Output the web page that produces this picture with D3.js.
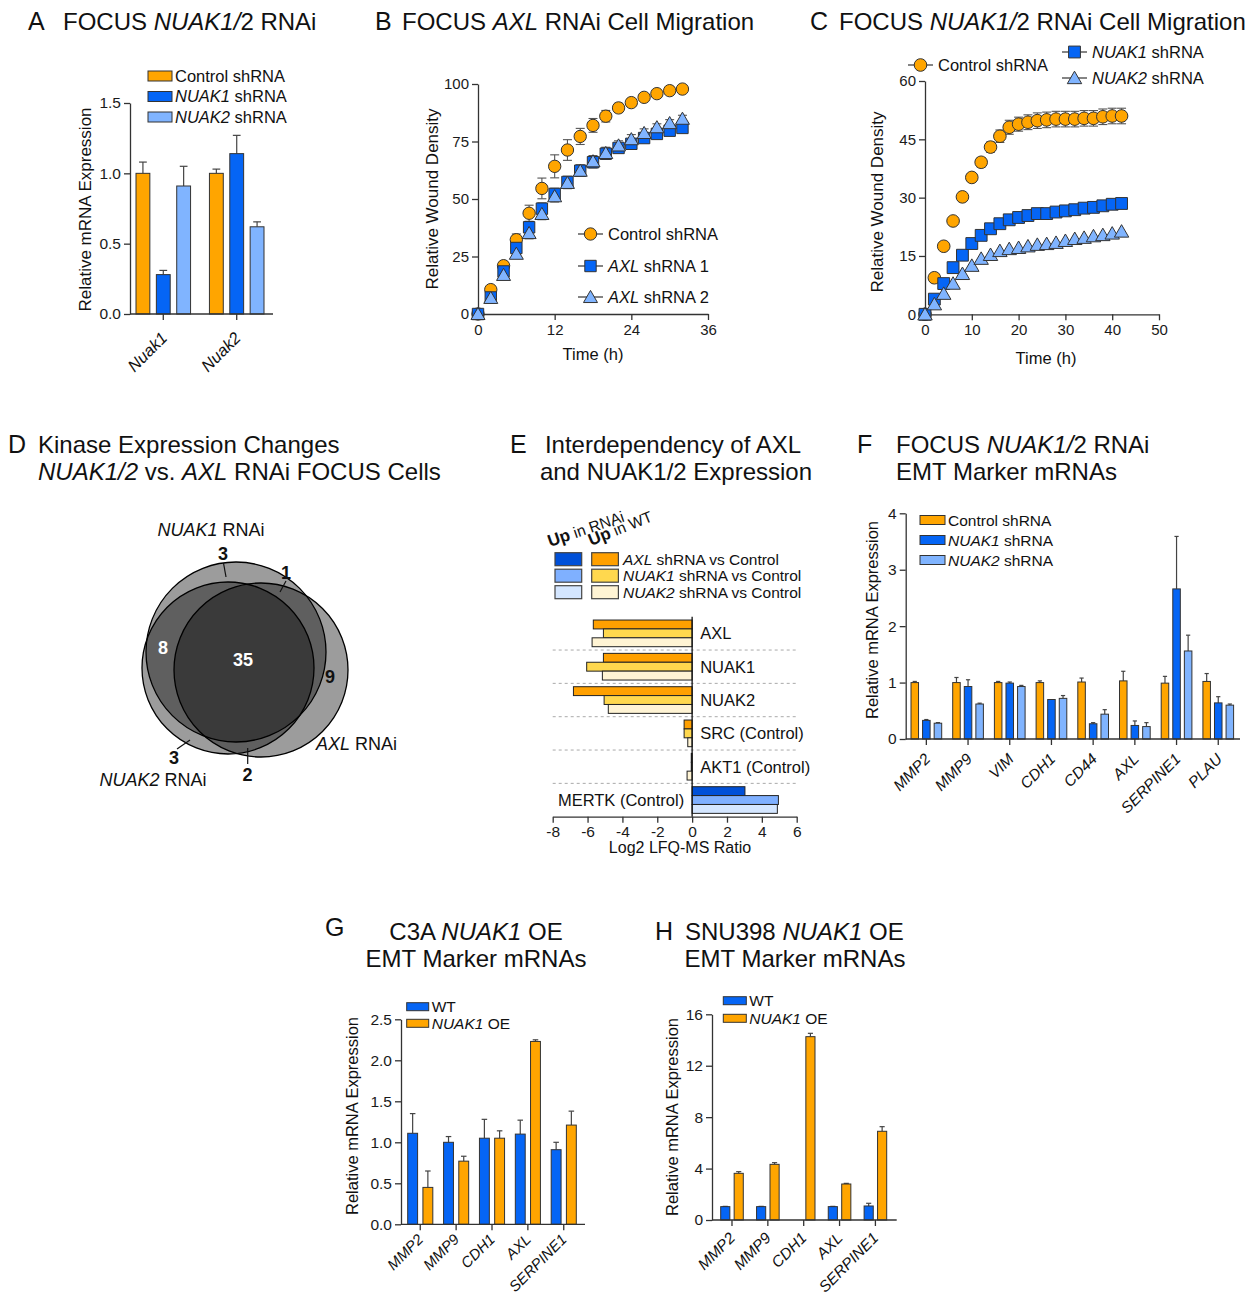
<!DOCTYPE html>
<html><head><meta charset="utf-8">
<script src="https://cdn.jsdelivr.net/npm/d3@7"></script>
<style>
body{margin:0;background:#fff;}
svg{font-family:"Liberation Sans",Arial,Helvetica,sans-serif;}
</style></head><body>
<svg id="fig" width="1255" height="1298"></svg>
<script>
// ---------------- DATA ----------------
// Panel A
const aCategories = ["Nuak1", "Nuak2"];
const aSeries = ["Control shRNA", "NUAK1 shRNA", "NUAK2 shRNA"];
const aValues = [[1.00, 0.28, 0.91], [1.00, 1.14, 0.62]];
const aErrors = [[0.08, 0.03, 0.14], [0.03, 0.13, 0.035]];
const aTicks = [0, 0.5, 1.0, 1.5];

// Panel B
const bTime = [0,2,4,6,8,10,12,14,16,18,20,22,24,26,28,30,32];
const bControl = [0,10.6,21,32.3,43.8,54.6,64.2,71.3,77.2,82,86,89.6,91.9,94.2,95.8,97.1,97.8];
const bControlErr = [0,0.8,1.5,2.5,3.5,4.5,5,4.5,3.5,3,2.5,2,1.5,1.2,1,1,1];
const bAxl1 = [0,7.2,18.5,28.7,37.7,45.8,52.2,57.4,62.3,66,69.7,72.2,74,76.5,78.3,79.7,80.9];
const bAxl1Err = [0,0.8,1.5,2,2.5,2.5,2.5,2.5,2.5,2.5,2.5,2,2,1.8,1.5,1.5,1.5];
const bAxl2 = [0,7,17,26.2,35.2,43.5,51.2,57,62.3,66.4,70,73.3,76,78.7,81.2,83,84.9];
const bAxl2Err = [0,0.8,1.5,2,2.5,2.5,2.5,2.5,2.5,2.5,2.5,2,2,1.8,1.5,1.5,1.5];
const bXTicks = [0, 12, 24, 36];
const bYTicks = [0, 25, 50, 75, 100];

// Panel C
const cTime = [0,2,4,6,8,10,12,14,16,18,20,22,24,26,28,30,32,34,36,38,40,42];
const cControl = [0,9.4,17.5,24,30.2,35.2,39.1,43,45.8,48.1,48.9,49.4,49.8,50,50.2,50.2,50.2,50.4,50.4,50.8,51,51];
const cControlErr = [0,0.5,0.5,0.5,0.6,1,1.2,1.3,1.6,1.8,1.8,1.9,2,2,2,2,2,2,2,2,2,2];
const cNuak1 = [0,3.9,7.9,12,15.2,18.2,20.3,22,23.3,24.3,24.9,25.4,25.9,25.9,26.3,26.6,26.9,27.3,27.5,27.9,28.3,28.5];
const cNuak2 = [0,2.6,5.3,7.9,10.4,12.5,14.3,15.3,16.3,16.8,17.1,17.5,17.9,18.1,18.4,18.9,19.4,19.7,20.1,20.4,20.8,21.3];
const cXTicks = [0, 10, 20, 30, 40, 50];
const cYTicks = [0, 15, 30, 45, 60];

// Panel D (Venn counts)
const vennSets = ["NUAK1 RNAi", "NUAK2 RNAi", "AXL RNAi"];
const vennRegions = ["NUAK1 only", "NUAK2 only", "AXL only", "NUAK1+NUAK2", "NUAK1+AXL", "NUAK2+AXL", "all"];
const vennCounts = [3, 3, 9, 8, 1, 2, 35];

// Panel E
const eCategories = ["AXL", "NUAK1", "NUAK2", "SRC (Control)", "AKT1 (Control)", "MERTK (Control)"];
const eSeries = ["AXL shRNA vs Control", "NUAK1 shRNA vs Control", "NUAK2 shRNA vs Control"];
const eValues = [[-5.67,-5.09,-5.74],[-5.09,-6.05,-5.15],[-6.81,-5.05,-4.81],[-0.46,-0.46,-0.25],[-0.05,-0.05,-0.29],[3.03,4.95,4.89]];
const eTicks = [-8,-6,-4,-2,0,2,4,6];

// Panel F
const fCategories = ["MMP2","MMP9","VIM","CDH1","CD44","AXL","SERPINE1","PLAU"];
const fSeries = ["Control shRNA", "NUAK1 shRNA", "NUAK2 shRNA"];
const fValues = [[1.0,0.33,0.28],[1.0,0.93,0.62],[1.0,0.99,0.93],[1.0,0.70,0.72],[1.01,0.27,0.44],[1.03,0.24,0.22],[0.99,2.66,1.56],[1.02,0.64,0.60]];
const fErrors = [[0.02,0.015,0.01],[0.09,0.12,0.015],[0.02,0.02,0.02],[0.03,0,0.05],[0.07,0.02,0.08],[0.17,0.08,0.07],[0.12,0.93,0.28],[0.14,0.11,0.02]];
const fTicks = [0,1,2,3,4];

// Panel G
const gCategories = ["MMP2","MMP9","CDH1","AXL","SERPINE1"];
const gSeries = ["WT", "NUAK1 OE"];
const gValues = [[1.11,0.45],[1.0,0.77],[1.05,1.05],[1.10,2.23],[0.91,1.21]];
const gErrors = [[0.24,0.2],[0.07,0.06],[0.23,0.09],[0.17,0.02],[0.09,0.17]];
const gTicks = [0,0.5,1.0,1.5,2.0,2.5];

// Panel H
const hCategories = ["MMP2","MMP9","CDH1","AXL","SERPINE1"];
const hSeries = ["WT", "NUAK1 OE"];
const hValues = [[1.04,3.63],[1.04,4.33],[0,14.26],[1.04,2.8],[1.09,6.9]];
const hErrors = [[0.02,0.13],[0.02,0.13],[0,0.26],[0.02,0.05],[0.21,0.36]];
const hTicks = [0,4,8,12,16];

// ---------------- STYLE ----------------
const ORANGE = "#FFA500", BLUE = "#0565F5", LBLUE = "#80B4FF";
const E_NEG = ["#FFA000", "#FFD84E", "#FFF4D4"];
const E_POS = ["#0050D8", "#7FB0FF", "#D4E6FF"];
const AX = "#333";

const svg = d3.select("#fig");

function rich(sel, parts){
  parts.forEach(p => {
    const t = sel.append("tspan").text(p[0]);
    if (p[1]) t.attr("font-style","italic");
    if (p[2]) t.attr("font-weight","bold");
    if (p[3]) t.style("font-size", p[3]);
  });
  return sel;
}
function txt(x, y, parts, size, anchor){
  const t = svg.append("text").attr("x",x).attr("y",y).style("font-size",size+"px")
    .attr("text-anchor",anchor||"start").attr("fill","#111");
  return rich(t, parts);
}
function fmtAxis(g, fs){
  g.attr("font-family",null).attr("font-size",null);
  g.select(".domain").attr("stroke",AX).attr("stroke-width",1.3);
  g.selectAll(".tick line").attr("stroke",AX).attr("stroke-width",1.3);
  g.selectAll(".tick text").attr("fill","#1a1a1a").style("font-size",(fs||15)+"px");
}
function yLabel(x, y, label, fs){
  svg.append("text").attr("transform",`translate(${x},${y}) rotate(-90)`)
    .attr("text-anchor","middle").style("font-size",(fs||17)+"px").attr("fill","#111").text(label);
}
function seriesParts(s){
  const m = s.match(/^(NUAK1|NUAK2|AXL)( .*)$/);
  return m ? [[m[1],1],[m[2]]] : [[s]];
}

// ---------------- GROUPED BAR PANEL ----------------
function barPanel(o){
  const g = svg.append("g");
  const y = d3.scaleLinear().domain(o.yDomain).range(o.yRange);
  const x0 = d3.scaleBand().domain(o.cats).range(o.xRange).paddingInner(o.p0).paddingOuter(0);
  const x1 = d3.scaleBand().domain(d3.range(o.series.length)).range([0, x0.bandwidth()]).paddingInner(o.p1);
  const bw = x1.bandwidth();
  o.cats.forEach((c,i) => {
    o.series.forEach((s,j) => {
      const v = o.values[i][j], e = o.errors[i][j];
      if (v <= 0) return;
      const bx = x0(c) + x1(j);
      if (e > 0) {
        const cx = bx + bw/2;
        g.append("line").attr("x1",cx).attr("x2",cx).attr("y1",y(v)).attr("y2",y(v+e)).attr("stroke","#444").attr("stroke-width",1.2);
        g.append("line").attr("x1",cx-bw*0.28).attr("x2",cx+bw*0.28).attr("y1",y(v+e)).attr("y2",y(v+e)).attr("stroke","#444").attr("stroke-width",1.2);
      }
      g.append("rect").attr("x",bx).attr("y",y(v)).attr("width",bw).attr("height",y(0)-y(v))
        .attr("fill",o.colors[j]).attr("stroke","#333").attr("stroke-width",1);
    });
  });
  const ya = g.append("g").attr("transform",`translate(${o.axisX},0)`)
    .call(d3.axisLeft(y).tickValues(o.yTicks).tickFormat(o.yFmt).tickSize(6).tickSizeOuter(0).tickPadding(3));
  fmtAxis(ya, o.tickFs);
  const xa = g.append("g").attr("transform",`translate(0,${y(0)})`)
    .call(d3.axisBottom(x0).tickSize(6).tickFormat(""));
  xa.select(".domain").remove();
  fmtAxis(xa);
  g.append("line").attr("x1",o.axisX).attr("x2",o.xEnd).attr("y1",y(0)).attr("y2",y(0)).attr("stroke",AX).attr("stroke-width",1.3);
  o.cats.forEach(c => {
    const tx = x0(c) + x0.bandwidth()/2;
    g.append("text").attr("transform",`translate(${tx+o.lab[0]},${y(0)+o.lab[1]}) rotate(-45)`)
      .attr("text-anchor","end").style("font-size",o.labFs+"px").attr("font-style","italic").attr("fill","#111").text(c);
  });
  o.series.forEach((s,j) => {
    const ly = o.leg.y + j*o.leg.dy;
    g.append("rect").attr("x",o.leg.x).attr("y",ly-o.leg.h/2).attr("width",o.leg.w).attr("height",o.leg.h)
      .attr("fill",o.colors[j]).attr("stroke","#333").attr("stroke-width",1);
    const t = g.append("text").attr("x",o.leg.x+o.leg.w+3).attr("y",ly).attr("dy","0.36em").style("font-size",o.leg.fs+"px").attr("fill","#111");
    rich(t, seriesParts(s));
  });
  return {x0, y};
}

// ---------------- SCATTER PANEL ----------------
function markerPath(type, size){
  const t = type==="circle"?d3.symbolCircle:type==="square"?d3.symbolSquare:d3.symbolTriangle;
  return d3.symbol().type(t).size(size)();
}
function scatterPanel(o){
  const g = svg.append("g");
  const x = d3.scaleLinear().domain(o.xDomain).range(o.xRange);
  const y = d3.scaleLinear().domain(o.yDomain).range(o.yRange);
  const ya = g.append("g").attr("transform",`translate(${x(0)},0)`)
    .call(d3.axisLeft(y).tickValues(o.yTicks).tickSize(6).tickSizeOuter(0).tickPadding(3));
  fmtAxis(ya);
  const xa = g.append("g").attr("transform",`translate(0,${y(0)})`)
    .call(d3.axisBottom(x).tickValues(o.xTicks).tickSize(6).tickSizeOuter(0).tickPadding(4));
  fmtAxis(xa);
  o.series.forEach(s => {
    s.values.forEach((v,i) => {
      const e = s.errors ? s.errors[i] : 0;
      const cx = x(o.time[i]);
      if (e > 0) {
        g.append("line").attr("x1",cx).attr("x2",cx).attr("y1",y(v-e)).attr("y2",y(v+e)).attr("stroke","#555").attr("stroke-width",1.1);
        [v-e, v+e].forEach(w => g.append("line").attr("x1",cx-4.5).attr("x2",cx+4.5).attr("y1",y(w)).attr("y2",y(w)).attr("stroke","#555").attr("stroke-width",1.1));
      }
    });
  });
  o.series.forEach(s => {
    s.values.forEach((v,i) => {
      g.append("path").attr("d",markerPath(s.type,s.size)).attr("transform",`translate(${x(o.time[i])},${y(v)+(s.type==="triangle"?1.5:0)})`)
        .attr("fill",s.color).attr("stroke","#333").attr("stroke-width",1);
    });
  });
  o.series.forEach(s => {
    const L = s.leg;
    g.append("line").attr("x1",L.x).attr("x2",L.x+25).attr("y1",L.y).attr("y2",L.y).attr("stroke","#333").attr("stroke-width",1.2);
    g.append("path").attr("d",markerPath(s.type,s.size)).attr("transform",`translate(${L.x+12.5},${L.y+(s.type==="triangle"?1.5:0)})`)
      .attr("fill",s.color).attr("stroke","#333").attr("stroke-width",1);
    const t = g.append("text").attr("x",L.x+30).attr("y",L.y).attr("dy","0.36em").style("font-size","16.5px").attr("fill","#111");
    rich(t, seriesParts(s.name));
  });
  return {x, y};
}

// ---------------- PANEL A ----------------
txt(28, 30, [["A"]], 25);
txt(63, 30, [["FOCUS "],["NUAK1/",1],["2 RNAi"]], 24);
barPanel({cats:aCategories, series:aSeries, values:aValues, errors:aErrors, colors:[ORANGE,BLUE,LBLUE],
  yDomain:[0,1.5], yRange:[314,103], xRange:[136,264], p0:0.257, p1:0.32, axisX:130, xEnd:273,
  yTicks:aTicks, yFmt:d3.format(".1f"), tickFs:15.5, lab:[5,25], labFs:16.5,
  leg:{x:148, y:76, dy:20.5, w:24, h:10, fs:16.5}});
yLabel(91, 209.5, "Relative mRNA Expression", 17);

// ---------------- PANEL B ----------------
txt(375, 30, [["B"]], 25);
txt(402, 30, [["FOCUS "],["AXL",1],[" RNAi Cell Migration"]], 24);
scatterPanel({xDomain:[0,36], xRange:[478,708], yDomain:[0,100], yRange:[314,84], xTicks:bXTicks, yTicks:bYTicks, time:bTime,
  series:[
    {name:"Control shRNA", values:bControl, errors:bControlErr, type:"circle", size:120, color:ORANGE, leg:{x:578,y:234}},
    {name:"AXL shRNA 1", values:bAxl1, errors:bAxl1Err, type:"square", size:130, color:BLUE, leg:{x:578,y:266}},
    {name:"AXL shRNA 2", values:bAxl2, errors:bAxl2Err, type:"triangle", size:85, color:LBLUE, leg:{x:578,y:297}}
  ]});
yLabel(438, 199, "Relative Wound Density", 17);
txt(593, 360, [["Time (h)"]], 16.5, "middle");

// ---------------- PANEL C ----------------
txt(810, 30, [["C"]], 25);
txt(839, 30, [["FOCUS "],["NUAK1/",1],["2 RNAi Cell Migration"]], 24);
scatterPanel({xDomain:[0,50], xRange:[925,1159], yDomain:[0,60], yRange:[314.3,81], xTicks:cXTicks, yTicks:cYTicks, time:cTime,
  series:[
    {name:"Control shRNA", values:cControl, errors:cControlErr, type:"circle", size:125, color:ORANGE, leg:{x:908,y:65}},
    {name:"NUAK1 shRNA", values:cNuak1, errors:null, type:"square", size:140, color:BLUE, leg:{x:1062,y:52}},
    {name:"NUAK2 shRNA", values:cNuak2, errors:null, type:"triangle", size:90, color:LBLUE, leg:{x:1062,y:78}}
  ]});
yLabel(883, 202, "Relative Wound Density", 17);
txt(1046, 364, [["Time (h)"]], 16.5, "middle");

// ---------------- PANEL D (Venn) ----------------
txt(8, 453, [["D"]], 25);
txt(38, 453, [["Kinase Expression Changes"]], 24);
txt(38, 480, [["NUAK1/2",1],[" vs. "],["AXL",1],[" RNAi FOCUS Cells"]], 24);
{
  const shapes = [ // NUAK1, NUAK2, AXL
    {cx:236, cy:652, rx:90, ry:90},
    {cx:228, cy:668, rx:86, ry:86},
    {cx:261, cy:670, rx:87, ry:87}
  ];
  const gv = svg.append("g");
  gv.selectAll("ellipse.f").data(shapes).enter().append("ellipse")
    .attr("cx",d=>d.cx).attr("cy",d=>d.cy).attr("rx",d=>d.rx).attr("ry",d=>d.ry)
    .attr("fill","#000").attr("fill-opacity",0.39);
  gv.selectAll("ellipse.s").data(shapes).enter().append("ellipse")
    .attr("cx",d=>d.cx).attr("cy",d=>d.cy).attr("rx",d=>d.rx).attr("ry",d=>d.ry)
    .attr("fill","none").attr("stroke","#000").attr("stroke-width",1.3);
  txt(211, 536, [["NUAK1",1],[" RNAi"]], 18, "middle");
  txt(153, 786, [["NUAK2",1],[" RNAi"]], 18, "middle");
  txt(316, 750, [["AXL",1],[" RNAi"]], 18, "start");
  const pos = [
    [223, 560, "#111", [223.5,563,226,577]],
    [174, 764, "#111", [177,749,190,740]],
    [330, 683, "#111", null],
    [163, 654, "#fff", null],
    [286, 579, "#111", [286,581,280,592]],
    [247.5, 781, "#111", [247.7,764,247.7,748]],
    [243, 666, "#fff", null]
  ];
  vennCounts.forEach((c,i) => {
    const p = pos[i];
    svg.append("text").attr("x",p[0]).attr("y",p[1]).attr("text-anchor","middle").attr("font-weight","bold")
      .style("font-size","18px").attr("fill",p[2]).text(c);
    if (p[3]) svg.append("line").attr("x1",p[3][0]).attr("y1",p[3][1]).attr("x2",p[3][2]).attr("y2",p[3][3]).attr("stroke","#111").attr("stroke-width",1.2);
  });
}

// ---------------- PANEL E ----------------
txt(510, 453, [["E"]], 25);
txt(673, 453, [["Interdependency of AXL"]], 24, "middle");
txt(676, 480, [["and NUAK1/2 Expression"]], 24, "middle");
{
  const g = svg.append("g");
  const x = d3.scaleLinear().domain([-8,6]).range([552.7,796.7]);
  const y0 = d3.scaleBand().domain(eCategories).range([616.7,816.7]).paddingInner(0.2).paddingOuter(0.1);
  const y1 = d3.scaleBand().domain(d3.range(eSeries.length)).range([0,y0.bandwidth()]);
  eCategories.slice(0,-1).forEach((c,i) => {
    const yy = y0(c) + y0.step() - y0.paddingInner()*y0.step()/2;
    g.append("line").attr("x1",x(-8)).attr("x2",x(6)).attr("y1",yy).attr("y2",yy)
      .attr("stroke","#aaa").attr("stroke-width",1).attr("stroke-dasharray","3,3");
  });
  eCategories.forEach((c,i) => {
    eValues[i].forEach((v,j) => {
      g.append("rect").attr("x",x(Math.min(0,v))).attr("y",y0(c)+y1(j)).attr("width",Math.abs(x(v)-x(0))).attr("height",y1.bandwidth())
        .attr("fill", v<0?E_NEG[j]:E_POS[j]).attr("stroke","#222").attr("stroke-width",1);
    });
    const cy = y0(c) + y0.bandwidth()/2;
    const right = d3.max(eValues[i]) <= 0;
    g.append("text").attr("x", right ? x(0)+8 : x(0)-8).attr("y",cy).attr("dy","0.36em")
      .attr("text-anchor", right ? "start" : "end").style("font-size","16.5px").attr("fill","#111").text(c);
  });
  g.append("line").attr("x1",x(0)).attr("x2",x(0)).attr("y1",616.7).attr("y2",816.7).attr("stroke","#111").attr("stroke-width",1.3);
  const xa = g.append("g").attr("transform","translate(0,816.7)")
    .call(d3.axisBottom(x).tickValues(eTicks).tickFormat(d => String(d)).tickSize(6).tickSizeOuter(0).tickPadding(3));
  fmtAxis(xa, 15.5);
  txt(680, 853, [["Log2 LFQ-MS Ratio"]], 16, "middle");
  eSeries.forEach((s,j) => {
    const ly = 552.7 + j*16.5;
    g.append("rect").attr("x",555).attr("y",ly).attr("width",26.7).attr("height",13).attr("fill",E_POS[j]).attr("stroke","#444").attr("stroke-width",1.2);
    g.append("rect").attr("x",591.7).attr("y",ly).attr("width",26.7).attr("height",13).attr("fill",E_NEG[j]).attr("stroke","#444").attr("stroke-width",1.2);
    const t = g.append("text").attr("x",623).attr("y",ly+6.5).attr("dy","0.36em").style("font-size","15.5px").attr("fill","#111");
    rich(t, seriesParts(s));
  });
  rich(svg.append("text").attr("transform","translate(550,547) rotate(-19)").style("font-size","15.5px").attr("fill","#111"),
    [["Up",0,1,"17px"],[" in RNAi"]]);
  rich(svg.append("text").attr("transform","translate(591,546) rotate(-22)").style("font-size","15.5px").attr("fill","#111"),
    [["Up",0,1,"17px"],[" in WT"]]);
}

// ---------------- PANEL F ----------------
txt(857, 453, [["F"]], 25);
txt(896, 453, [["FOCUS "],["NUAK1/",1],["2 RNAi"]], 24);
txt(896, 480, [["EMT Marker mRNAs"]], 24);
barPanel({cats:fCategories, series:fSeries, values:fValues, errors:fErrors, colors:[ORANGE,BLUE,LBLUE],
  yDomain:[0,4], yRange:[739,513.3], xRange:[911,1233.6], p0:0.264, p1:0.35, axisX:905.7, xEnd:1240,
  yTicks:fTicks, yFmt:d3.format("d"), tickFs:15.5, lab:[5,21], labFs:15.5,
  leg:{x:920, y:520, dy:20, w:25, h:9, fs:15.5}});
yLabel(878, 620, "Relative mRNA Expression", 16.5);

// ---------------- PANEL G ----------------
txt(325, 936, [["G"]], 25);
txt(476, 940, [["C3A "],["NUAK1",1],[" OE"]], 24, "middle");
txt(476, 967, [["EMT Marker mRNAs"]], 24, "middle");
barPanel({cats:gCategories, series:gSeries, values:gValues, errors:gErrors, colors:[BLUE,ORANGE],
  yDomain:[0,2.5], yRange:[1224.3,1019.3], xRange:[407.7,576.3], p0:0.30, p1:0.35, axisX:401, xEnd:585,
  yTicks:gTicks, yFmt:d3.format(".1f"), tickFs:15.5, lab:[4,16], labFs:15,
  leg:{x:406.7, y:1006.7, dy:16.6, w:22, h:8, fs:15.5}});
yLabel(358, 1116, "Relative mRNA Expression", 16.5);

// ---------------- PANEL H ----------------
txt(655, 940, [["H"]], 25);
txt(685, 940, [["SNU398 "],["NUAK1",1],[" OE"]], 24);
txt(795, 967, [["EMT Marker mRNAs"]], 24, "middle");
barPanel({cats:hCategories, series:hSeries, values:hValues, errors:hErrors, colors:[BLUE,ORANGE],
  yDomain:[0,16], yRange:[1220,1014.3], xRange:[720.7,886.7], p0:0.37, p1:0.32, axisX:712, xEnd:896.7,
  yTicks:hTicks, yFmt:d3.format("d"), tickFs:15.5, lab:[4,19], labFs:15.5,
  leg:{x:723.3, y:1000.7, dy:17.6, w:23, h:8, fs:15.5}});
yLabel(678, 1117, "Relative mRNA Expression", 16.5);
</script>
</body></html>
